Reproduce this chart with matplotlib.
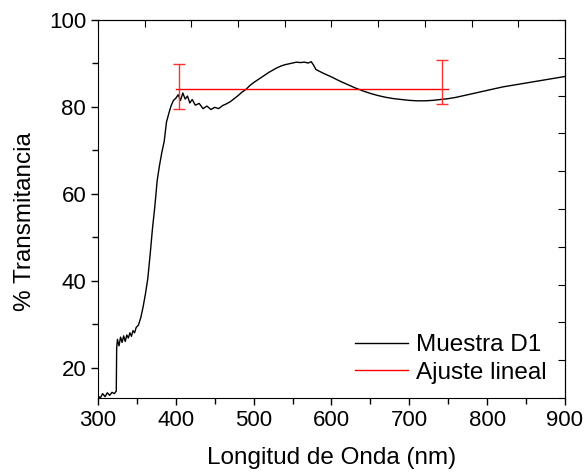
import numpy as np
import matplotlib
matplotlib.use("Agg")
import matplotlib.pyplot as plt

plt.rcParams['font.family'] = ['Liberation Sans', 'DejaVu Sans']

# Muestra D1: espectro de transmitancia
wavelength = [300, 303, 306, 309, 312, 315, 318, 321, 323.5, 324, 325, 327, 329, 331,
              333, 335, 337, 339, 341, 343, 345, 347, 349, 352, 355, 358, 361, 364,
              367, 370, 373, 376, 379, 382, 385, 388, 391, 394, 397, 400, 403, 406,
              409, 412, 415, 418, 421, 425, 430, 435, 440, 445, 450, 455, 460, 465,
              470, 475, 480, 485, 490, 495, 500, 505, 510, 515, 520, 525, 530, 535,
              540, 545, 550, 555, 560, 565, 570, 574, 577, 580, 590, 600, 610, 620,
              630, 640, 650, 660, 670, 680, 690, 700, 710, 720, 730, 740, 750, 760,
              770, 780, 790, 800, 820, 840, 860, 880, 900]
transmit = [13.5, 13.0, 14.0, 13.3, 14.2, 13.6, 14.3, 14.0, 14.6, 24.5, 26.5, 25.0, 27.0, 25.8,
            27.3, 26.0, 27.5, 26.8, 28.0, 27.2, 28.5, 28.0, 29.2, 29.8, 31.5, 34.0, 37.0, 40.5,
            46.0, 52.0, 57.0, 63.0, 66.5, 69.5, 72.0, 76.5, 78.5, 80.3, 81.5, 82.0, 82.8, 81.5,
            83.2, 81.8, 82.5, 80.9, 81.7, 80.4, 80.8, 79.6, 80.2, 79.4, 79.9, 79.6, 80.3, 80.7,
            81.2, 81.9, 82.6, 83.4, 84.0, 84.9, 85.6, 86.2, 86.8, 87.4, 88.0, 88.5, 89.0, 89.4,
            89.7, 89.9, 90.1, 90.3, 90.2, 90.3, 90.1, 90.4, 89.6, 88.6, 87.7, 86.9, 86.0, 85.2,
            84.4, 83.7, 83.1, 82.6, 82.2, 81.9, 81.7, 81.5, 81.4, 81.4, 81.5, 81.7, 81.9, 82.2,
            82.6, 83.0, 83.4, 83.8, 84.6, 85.2, 85.8, 86.4, 87.0]

# Ajuste lineal
fit_x = [400, 750]
fit_y = [84.2, 84.2]
err_x = [404.5, 742]
err_y = [84.7, 85.7]
err_val = [5.1, 5.0]

fig = plt.figure(figsize=(5.85, 4.73), dpi=100)
ax = fig.add_axes([0.1675, 0.1586, 0.7983, 0.7991])

ax.plot(wavelength, transmit, color='black', lw=1.0, label='Muestra D1')
ax.plot(fit_x, fit_y, color='red', lw=1.0, label='Ajuste lineal')
ax.errorbar(err_x, err_y, yerr=err_val, fmt='none', ecolor='#ff3030',
            elinewidth=1.0, capsize=4, capthick=1.0)

ax.set_xlim(300, 900)
ax.set_ylim(13, 100)
ax.set_xticks([300, 400, 500, 600, 700, 800, 900])
ax.set_xticks(np.arange(350, 900, 100), minor=True)
ax.set_yticks([20, 40, 60, 80, 100])
ax.set_yticks([30, 50, 70, 90], minor=True)
ax.tick_params(which='both', direction='out', labelsize=16, width=1)
ax.tick_params(which='major', length=5)
ax.tick_params(which='minor', length=4)

top = ax.secondary_xaxis('top')
top.set_xticks(np.arange(300, 901, 60))
top.tick_params(direction='in', length=5, labeltop=False)
right = ax.secondary_yaxis('right')
right.set_yticks(np.arange(13, 100.1, 8.7))
right.tick_params(direction='in', length=5, labelright=False)

ax.set_xlabel('Longitud de Onda (nm)', fontsize=17.5, labelpad=12)
ax.set_ylabel('% Transmitancia', fontsize=17.5)
ax.yaxis.set_label_coords(-0.133, 0.467)

ax.legend(loc='lower right', bbox_to_anchor=(1.008, -0.02), frameon=False, fontsize=17.5,
          handlelength=2.2, handletextpad=0.33, labelspacing=0.22)

plt.savefig('out.png', dpi=100)
